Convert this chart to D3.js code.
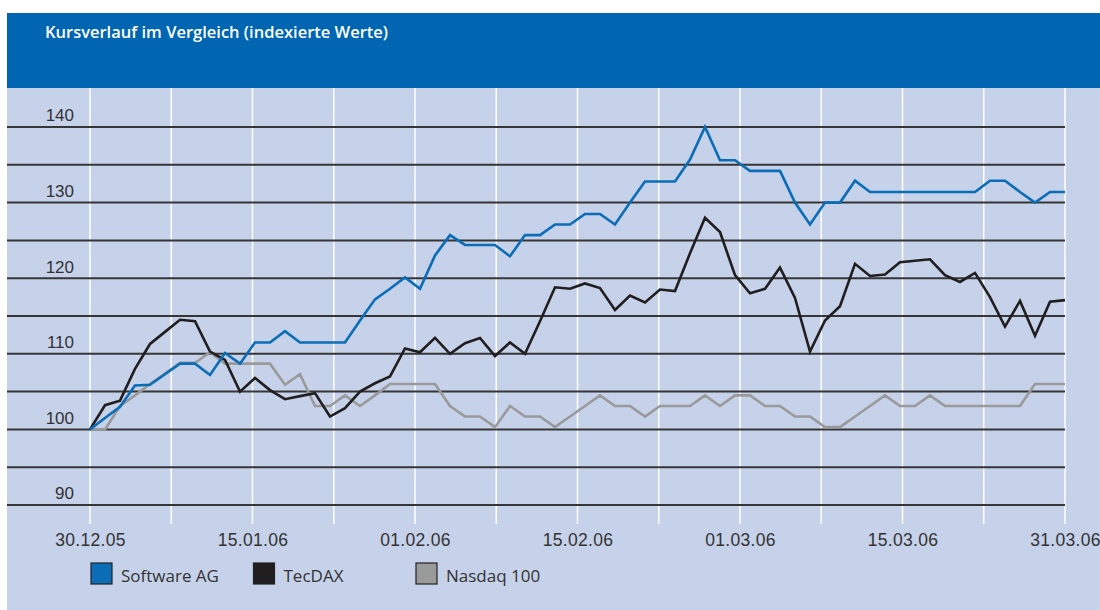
<!DOCTYPE html>
<html>
<head>
<meta charset="utf-8">
<script src="https://cdn.jsdelivr.net/npm/d3@7"></script>
<style>
  html, body { margin: 0; padding: 0; background: #fff; }
  svg { display: block; font-family: 'Open Sans', sans-serif; }
</style>
</head>
<body>
<div id="chart"></div>
<script>
// indexierte Werte, 30.12.05 = 100, ein Wert je Handelstag
const softwareAg = [
  100, 101.5, 103.0, 105.8, 105.9, 107.3, 108.7, 108.7, 107.2, 110.1,
  108.7, 111.5, 111.5, 113.0, 111.5, 111.5, 111.5, 111.5, 114.4, 117.2,
  118.6, 120.1, 118.6, 123.0, 125.7, 124.4, 124.4, 124.4, 122.9, 125.7,
  125.7, 127.1, 127.1, 128.5, 128.5, 127.1, 130.0, 132.8, 132.8, 132.8,
  135.7, 140.0, 135.6, 135.6, 134.2, 134.2, 134.2, 130.0, 127.1, 130.0,
  130.0, 132.9, 131.4, 131.4, 131.4, 131.4, 131.4, 131.4, 131.4, 131.4,
  132.9, 132.9, 131.4, 130.0, 131.4, 131.4
]

const tecDax = [
  100, 103.2, 103.8, 108.0, 111.3, 112.9, 114.5, 114.3, 110.3, 109.2,
  105.0, 106.8, 105.2, 104.0, 104.4, 104.8, 101.7, 102.8, 105.0, 106.1,
  107.0, 110.7, 110.2, 112.1, 110.0, 111.4, 112.1, 109.7, 111.5, 110.0,
  114.3, 118.8, 118.6, 119.3, 118.7, 115.8, 117.7, 116.8, 118.5, 118.3,
  123.3, 128.0, 126.1, 120.4, 118.0, 118.6, 121.4, 117.4, 110.3, 114.4,
  116.3, 121.9, 120.3, 120.5, 122.1, 122.3, 122.5, 120.4, 119.5, 120.7,
  117.5, 113.6, 117.0, 112.4, 116.9, 117.1
]

const nasdaq100 = [
  100, 100, 103.1, 104.5, 106.0, 107.4, 108.8, 108.8, 110.2, 108.7,
  108.7, 108.7, 108.7, 105.9, 107.3, 103.1, 103.1, 104.5, 103.1, 104.5,
  106.0, 106.0, 106.0, 106.0, 103.1, 101.7, 101.7, 100.3, 103.1, 101.7,
  101.7, 100.3, 101.7, 103.1, 104.5, 103.1, 103.1, 101.7, 103.1, 103.1,
  103.1, 104.5, 103.1, 104.5, 104.5, 103.1, 103.1, 101.7, 101.7, 100.3,
  100.3, 101.7, 103.1, 104.5, 103.1, 103.1, 104.5, 103.1, 103.1, 103.1,
  103.1, 103.1, 103.1, 106.0, 106.0, 106.0
]

const dateLabels = ['30.12.05', '15.01.06', '01.02.06', '15.02.06', '01.03.06', '15.03.06', '31.03.06']
const yTicks = [90, 100, 110, 120, 130, 140]
const yGrid = [90, 95, 100, 105, 110, 115, 120, 125, 130, 135, 140]
const seriesNames = ['Software AG', 'TecDAX', 'Nasdaq 100']

const title = 'Kursverlauf im Vergleich (indexierte Werte)'

const width = 1100
const height = 610
const plotLeft = 90
const plotRight = 1065
const plotTop = 127
const plotBottom = 505
const gridCount = 12

const colors = {
  header: '#0066b1',
  panel: '#c6d1ea',
  grid: '#363636',
  text: '#333333',
  blue: '#0a6db6',
  black: '#211e1f',
  gray: '#9a9a9b'
}

const series = [
  { name: seriesNames[0], values: softwareAg, color: colors.blue },
  { name: seriesNames[1], values: tecDax, color: colors.black },
  { name: seriesNames[2], values: nasdaq100, color: colors.gray }
]

const x = d3.scaleLinear()
  .domain([0, softwareAg.length - 1])
  .range([plotLeft, plotRight])

// 12 gleich breite Abschnitte, jeder zweite beschriftet
const period = d3.scaleLinear()
  .domain([0, gridCount])
  .range([plotLeft, plotRight])

const y = d3.scaleLinear()
  .domain([90, 140])
  .range([plotBottom, plotTop])

const svg = d3.select('#chart').append('svg')
  .attr('width', width)
  .attr('height', height)
  .attr('viewBox', [0, 0, width, height])

svg.append('rect')
  .attr('width', width)
  .attr('height', height)
  .attr('fill', '#fff')

svg.append('rect')
  .attr('x', 7)
  .attr('y', 88)
  .attr('width', width - 7)
  .attr('height', height - 88)
  .attr('fill', colors.panel)

svg.append('rect')
  .attr('x', 7)
  .attr('y', 13)
  .attr('width', width - 7)
  .attr('height', 75)
  .attr('fill', colors.header)

svg.append('text')
  .attr('x', 45)
  .attr('y', 38)
  .attr('fill', '#fff')
  .attr('font-size', '16.5px')
  .attr('font-weight', 600)
  .text(title)

// senkrechte weisse Linien
svg.append('g')
  .selectAll('line')
  .data(d3.range(gridCount + 1))
  .join('line')
  .attr('x1', d => period(d))
  .attr('x2', d => period(d))
  .attr('y1', 88)
  .attr('y2', 524)
  .attr('stroke', '#fff')
  .attr('stroke-width', 1.5)

// waagerechte Linien
svg.append('g')
  .selectAll('line')
  .data(yGrid)
  .join('line')
  .attr('x1', 7)
  .attr('x2', plotRight)
  .attr('y1', d => y(d))
  .attr('y2', d => y(d))
  .attr('stroke', colors.grid)
  .attr('stroke-width', 2)

const yAxis = d3.axisLeft(y)
  .tickValues(yTicks)
  .tickSize(0)
  .tickPadding(0)

svg.append('g')
  .attr('transform', 'translate(74, 0)')
  .call(yAxis)
  .call(g => g.select('.domain').remove())
  .call(g => g.selectAll('text')
    .attr('dy', '-0.36em')
    .attr('font-family', 'inherit')
    .attr('font-size', '17px')
    .attr('fill', colors.text))

const xAxis = d3.axisBottom(period)
  .tickValues(d3.range(0, gridCount + 1, 2))
  .tickFormat((d, i) => dateLabels[i])
  .tickSize(0)

svg.append('g')
  .attr('transform', `translate(0, ${plotBottom})`)
  .call(xAxis)
  .call(g => g.select('.domain').remove())
  .call(g => g.selectAll('text')
    .attr('y', 41)
    .attr('dy', 0)
    .attr('font-family', 'inherit')
    .attr('font-size', '17.5px')
    .attr('letter-spacing', '0.3px')
    .attr('fill', colors.text))

const line = d3.line()
  .x((d, i) => x(i))
  .y(d => y(d))

svg.append('g')
  .selectAll('path')
  .data(series.slice().reverse())
  .join('path')
  .attr('fill', 'none')
  .attr('stroke', d => d.color)
  .attr('stroke-width', 2.6)
  .attr('stroke-linejoin', 'miter')
  .attr('d', d => line(d.values))

// Legende unter den Abschnitten 0, 2 und 4
const legend = svg.append('g')
  .selectAll('g')
  .data(series)
  .join('g')
  .attr('transform', (d, i) => `translate(${period(i * 2)}, 563)`)

legend.append('rect')
  .attr('x', 1)
  .attr('y', 0)
  .attr('width', 21)
  .attr('height', 21)
  .attr('fill', d => d.color)
  .attr('stroke', '#222')
  .attr('stroke-width', 1.2)

legend.append('text')
  .attr('x', 31)
  .attr('y', 19)
  .attr('font-size', '17px')
  .attr('fill', colors.text)
  .text(d => d.name)
</script>
</body>
</html>
